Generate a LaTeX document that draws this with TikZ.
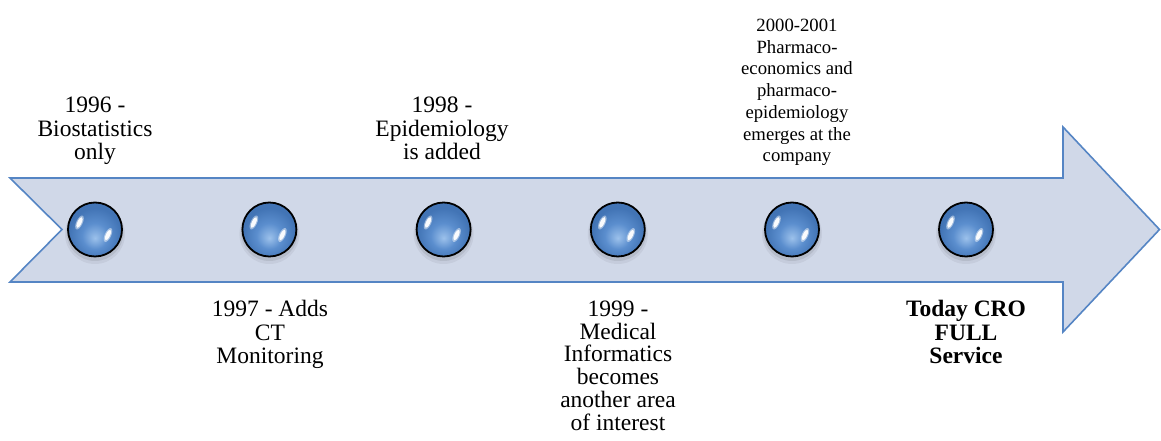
\documentclass[tikz,border=0pt]{standalone}
\usepackage{fontspec}
\setmainfont{Liberation Serif}

\definecolor{arrowfill}{HTML}{D0D8E8}
\definecolor{arrowline}{HTML}{5585C4}
\definecolor{bubDark}{HTML}{4274B5}
\definecolor{bubMid}{HTML}{5B8ECE}
\definecolor{bubLight}{HTML}{9CC1EB}

% glossy blue fill for the milestone dots, lighter towards the lower middle
\pgfdeclareradialshading{bubble}{\pgfpoint{0bp}{-8bp}}{%
  color(0bp)=(bubLight); color(12bp)=(bubMid); color(24bp)=(bubDark); color(50bp)=(bubDark)}

\begin{document}
\begin{tikzpicture}[x=1pt,y=1pt,
  lbl/.style={align=center, inner sep=0pt, font=\fontsize{23.5}{23.5}\selectfont},
  lblsmall/.style={align=center, inner sep=0pt, font=\fontsize{18.7}{21.7}\selectfont},
  bubble/.style={circle, minimum size=54pt, inner sep=0pt, draw=black,
    line width=1.8pt, shading=bubble},
  arrowbody/.style={fill=arrowfill, draw=arrowline, line width=1.6pt, line join=miter},
  gloss/.style={white, opacity=0.95}
]
\useasboundingbox (0,0) rectangle (1161,441);

% timeline arrow with notched tail
\draw[arrowbody] (10,263) -- (1063,263) -- (1063,314) -- (1159.5,211.5)
  -- (1063,109) -- (1063,159) -- (10,159) -- (62,211.5) -- cycle;

% milestone dots with soft shadow and two highlights
\foreach \i/\x in {1/95,2/269.4,3/443.6,4/617.8,5/792,6/966} {
  \fill[black, opacity=0.05] (\x,207) circle (30);
  \fill[black, opacity=0.08] (\x,208.5) circle (28.5);
  \node[bubble] (b\i) at (\x,211.5) {};
  \begin{scope}[shift={(b\i.center)}]
    \fill[white, opacity=0.45, rotate around={65:(-15.5,7)}] (-15.5,7) ellipse (7.5 and 3.2);
    \fill[gloss, rotate around={65:(-15.5,7)}] (-15.5,7) ellipse (5.8 and 2.1);
    \fill[white, opacity=0.45, rotate around={65:(13,-5.5)}] (13,-5.5) ellipse (7.5 and 3.2);
    \fill[gloss, rotate around={65:(13,-5.5)}] (13,-5.5) ellipse (5.8 and 2.1);
  \end{scope}
}

% milestone labels
\node[lbl, anchor=south] (t1) at (95,276) {1996 -\\Biostatistics\\only\vphantom{y}};
\node[lbl, anchor=north] (t2) at (270,141) {\vphantom{d}1997 - Adds\\CT\\Monitoring};
\node[lbl, anchor=south] (t3) at (442,276) {1998 -\\Epidemiology\\is added\vphantom{y}};
\node[lbl, anchor=north, font=\fontsize{23.5}{22.7}\selectfont] (t4) at (618,141)
  {\vphantom{d}1999 -\\Medical\\Informatics\\becomes\\another area\\of interest};
\node[lblsmall, anchor=south] (t5) at (797,275)
  {2000-2001\\Pharmaco-\\economics and\\pharmaco-\\epidemiology\\emerges at the\\company\vphantom{y}};
\node[lbl, anchor=north, font=\fontsize{23.5}{23.5}\selectfont\bfseries] (t6) at (966,141)
  {\vphantom{d}Today CRO\\FULL\\Service};
\end{tikzpicture}
\end{document}
